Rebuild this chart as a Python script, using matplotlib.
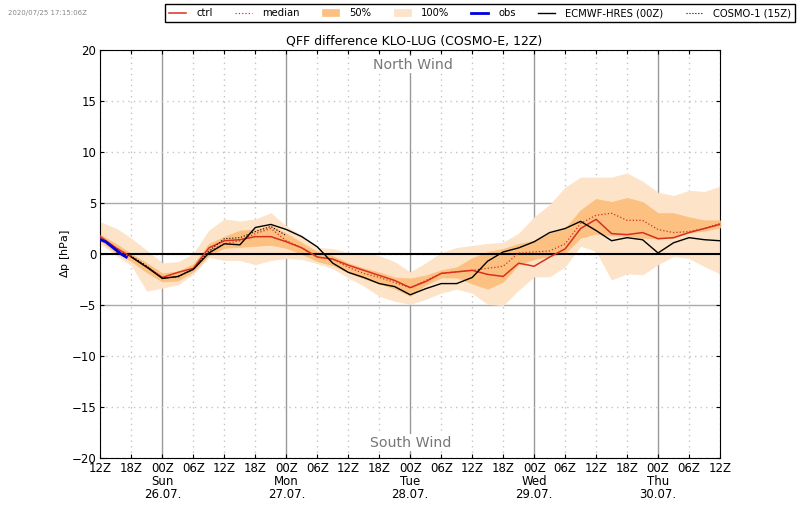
import numpy as np
from matplotlib import pyplot as plt

hours = list(range(0, 123, 3))

ctrl = [1.7, 0.6, -0.3, -1.3, -2.3, -1.8, -1.4, 0.6, 1.3, 1.4, 1.7, 1.7, 1.2, 0.6,
        -0.3, -0.5, -1.1, -1.6, -2.1, -2.6, -3.3, -2.7, -1.9, -1.75, -1.6, -2.0, -2.2,
        -0.9, -1.2, -0.3, 0.5, 2.5, 3.4, 2.0, 1.9, 2.1, 1.5, 1.6, 2.1, 2.5, 2.9]
median = [1.6, 0.6, -0.3, -1.2, -2.3, -2.3, -1.4, 0.3, 1.0, 1.3, 2.0, 2.5, 1.3, 0.6,
          -0.3, -0.5, -1.3, -1.9, -2.3, -2.8, -3.3, -2.6, -1.9, -1.75, -1.6, -1.4, -1.2,
          0.1, 0.2, 0.3, 1.0, 3.0, 3.8, 4.0, 3.3, 3.3, 2.4, 2.1, 2.2, 2.5, 3.0]
p25 = [1.3, 0.1, -0.7, -1.8, -2.7, -2.6, -1.7, -0.1, 0.6, 0.7, 0.8, 0.9, 0.6, 0.0,
       -0.7, -1.1, -1.8, -2.4, -2.9, -3.4, -4.1, -3.0, -2.3, -2.3, -2.9, -3.4, -2.7,
       -1.0, -0.5, -0.2, 0.1, 1.6, 2.0, 1.8, 1.8, 1.6, 1.5, 1.6, 2.1, 2.3, 2.6]
p75 = [1.9, 1.0, 0.0, -0.9, -1.9, -1.7, -1.0, 1.0, 1.7, 2.3, 2.4, 2.8, 2.0, 1.1,
       0.2, -0.2, -0.9, -1.4, -1.8, -2.3, -2.4, -2.1, -1.6, -1.3, -0.4, 0.2, 0.5,
       1.0, 1.3, 2.0, 2.5, 4.3, 5.4, 5.1, 5.5, 5.1, 4.0, 4.0, 3.6, 3.3, 3.3]
pmin = [1.0, -0.1, -1.1, -3.6, -3.3, -3.0, -1.9, -0.3, -0.6, -0.6, -1.0, -0.6, -0.4, -0.5,
        -0.9, -1.4, -2.3, -3.1, -4.1, -4.6, -4.9, -4.4, -3.8, -3.4, -3.8, -4.9, -5.0,
        -3.5, -2.2, -2.2, -1.2, 0.8, 0.3, -2.5, -1.9, -2.0, -1.0, -0.2, -0.4, -1.2, -1.9]
pmax = [3.1, 2.5, 1.5, 0.3, -0.9, -0.8, 0.0, 2.3, 3.4, 3.2, 3.4, 4.0, 2.7, 1.8,
        0.6, 0.5, 0.1, 0.1, -0.2, -0.8, -1.8, -0.9, 0.1, 0.6, 0.8, 1.0, 1.1,
        2.0, 3.6, 4.8, 6.5, 7.5, 7.5, 7.5, 7.9, 7.1, 6.0, 5.7, 6.2, 6.1, 6.6]

ecmwf_hours = hours[2:]
ecmwf = [-0.3, -1.3, -2.4, -2.2, -1.5, 0.1, 1.0, 0.9, 2.6, 2.9, 2.4, 1.7,
         0.7, -0.9, -1.8, -2.3, -2.9, -3.2, -4.0, -3.4, -2.9, -2.9, -2.3, -0.7, 0.2,
         0.6, 1.2, 2.1, 2.5, 3.2, 2.3, 1.3, 1.6, 1.4, 0.1, 1.1, 1.6, 1.4, 1.3]

cosmo_hours = [3, 6, 9, 12, 15, 18, 21, 24, 27, 30, 33, 36]
cosmo = [0.1, -0.2, -1.2, -2.4, -2.2, -1.5, 0.3, 1.5, 1.6, 2.2, 2.7, 1.8]

obs_hours = [0, 1, 2, 3, 4, 5]
obs = [1.4, 1.2, 0.8, 0.4, 0.0, -0.3]

xticks = list(range(0, 126, 6))
xlabels = ['12Z', '18Z', '00Z\nSun\n26.07.', '06Z', '12Z', '18Z', '00Z\nMon\n27.07.',
           '06Z', '12Z', '18Z', '00Z\nTue\n28.07.', '06Z', '12Z', '18Z',
           '00Z\nWed\n29.07.', '06Z', '12Z', '18Z', '00Z\nThu\n30.07.', '06Z', '12Z']
yticks = list(range(-20, 25, 5))

fig = plt.figure(figsize=(8, 5.09), dpi=100)
ax = fig.add_axes([100.5 / 800, 1 - 458 / 509, 619.5 / 800, 408 / 509])

h100 = ax.fill_between(hours, pmin, pmax, color='#fde3c8', lw=0.5, zorder=2)
h50 = ax.fill_between(hours, p25, p75, color='#fcc081', lw=0.5, zorder=3)
ax.axhline(0, color='k', lw=1.5, zorder=4)
l_ctrl, = ax.plot(hours, ctrl, color='#d7301f', lw=1.1, zorder=6)
l_med, = ax.plot(hours, median, color='#d7301f', lw=0.9, ls=':', zorder=5)
l_ec, = ax.plot(ecmwf_hours, ecmwf, color='k', lw=1.0, zorder=7)
l_co, = ax.plot(cosmo_hours, cosmo, color='k', lw=0.8, ls=':', zorder=7)
l_obs, = ax.plot(obs_hours, obs, color='#0000dd', lw=2, zorder=8)

ax.set_xlim(0, 120)
ax.set_ylim(-20, 20)
ax.set_xticks(xticks)
ax.set_xticklabels(xlabels, linespacing=1.0)
ax.set_yticks(yticks)
ax.tick_params(direction='in', labelsize=8.5, length=3, width=0.8, pad=3, top=True, right=True)
ax.set_ylabel(r'$\Delta$p [hPa]', fontsize=8, labelpad=0)
ax.set_title('QFF difference KLO-LUG (COSMO-E, 12Z)', fontsize=9, pad=4, x=0.506)

for x in xticks:
    if x % 24 == 12:
        ax.axvline(x, color='#999999', lw=1.0, zorder=1)
    else:
        ax.axvline(x, color='#c4c4c4', lw=1.0, ls=(0, (1, 3)), zorder=1)
for y in yticks:
    if abs(y) == 5:
        ax.axhline(y, color='#aaaaaa', lw=1.0, zorder=1)
    else:
        ax.axhline(y, color='#c4c4c4', lw=1.0, ls=(0, (1, 3)), zorder=1)

ax.text(60.5, 18.55, 'North Wind', color='#777777', fontsize=10.2, ha='center', va='center',
        bbox=dict(fc='white', ec='none', pad=1), zorder=4)
ax.text(60, -18.5, 'South Wind', color='#777777', fontsize=10.2, ha='center', va='center',
        bbox=dict(fc='white', ec='none', pad=1), zorder=4)

fig.text(8 / 800, 1 - 13 / 509, '2020/07/25 17:15:06Z', color='#888888', fontsize=5, va='center')

fig.legend([l_ctrl, l_med, h50, h100, l_obs, l_ec, l_co],
           ['ctrl', 'median', '50%', '100%', 'obs', 'ECMWF-HRES (00Z)', 'COSMO-1 (15Z)'],
           loc='upper right', bbox_to_anchor=(795 / 800, 1 - 4 / 509), ncol=7, fontsize=7.2,
           fancybox=False, edgecolor='k', framealpha=1, borderpad=0.4, columnspacing=2.25,
           handlelength=1.7, handletextpad=1.0, borderaxespad=0)

fig.savefig('out.png', dpi=100)
